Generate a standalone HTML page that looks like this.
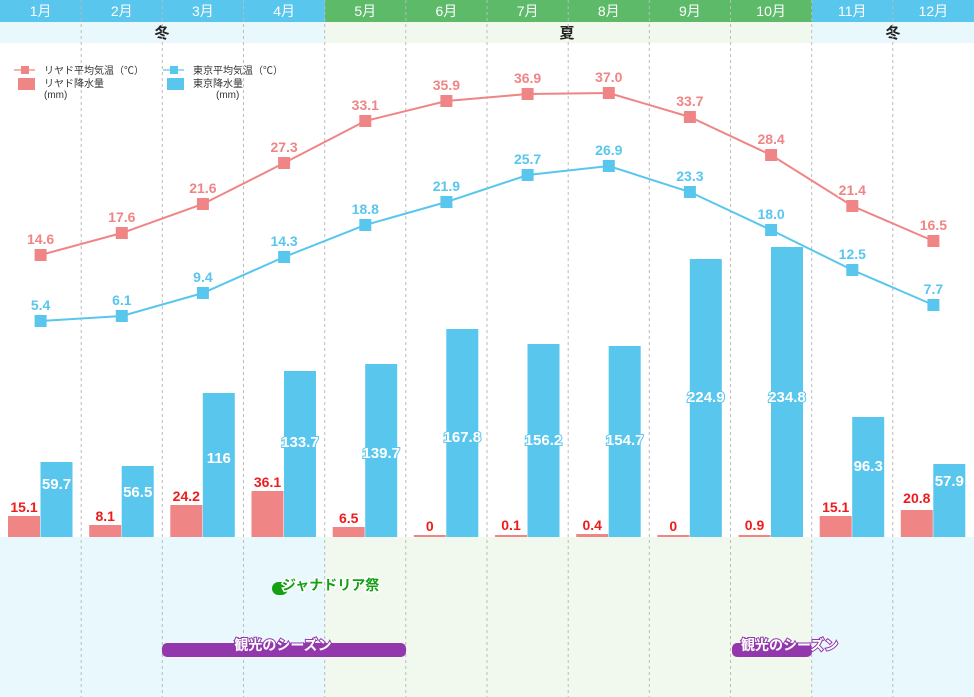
<!DOCTYPE html>
<html><head><meta charset="utf-8"><style>
html,body{margin:0;padding:0;background:#fff;}
svg{display:block;font-family:"Liberation Sans","Noto Sans CJK JP",sans-serif;}
</style></head><body>
<svg width="974" height="697" viewBox="0 0 974 697" xmlns="http://www.w3.org/2000/svg">
<rect x="0" y="22" width="325" height="21" fill="#e9f8fd"/>
<rect x="325" y="22" width="487" height="21" fill="#f1f9ef"/>
<rect x="812" y="22" width="162" height="21" fill="#e9f8fd"/>
<rect x="0" y="537" width="325" height="160" fill="#e9f8fd"/>
<rect x="325" y="537" width="487" height="160" fill="#f1f9ef"/>
<rect x="812" y="537" width="162" height="160" fill="#e9f8fd"/>
<rect x="0" y="0" width="325" height="22" fill="#59c6ee"/>
<rect x="325" y="0" width="487" height="22" fill="#5cba68"/>
<rect x="812" y="0" width="162" height="22" fill="#59c6ee"/>
<g fill="#fff" font-size="14" text-anchor="middle">
<text x="40.6" y="16">1月</text><text x="121.8" y="16">2月</text><text x="202.9" y="16">3月</text><text x="284.1" y="16">4月</text>
<text x="365.3" y="16">5月</text><text x="446.4" y="16">6月</text><text x="527.6" y="16">7月</text><text x="608.8" y="16">8月</text>
<text x="689.9" y="16">9月</text><text x="771.1" y="16">10月</text><text x="852.3" y="16">11月</text><text x="933.4" y="16">12月</text>
</g>
<g font-size="15" font-weight="bold" text-anchor="middle" fill="#222">
<text x="162" y="38">冬</text><text x="567" y="38">夏</text><text x="893" y="38">冬</text>
</g>
<g stroke="#bbb" stroke-width="1" stroke-dasharray="3,3">
<line x1="81.2" y1="0" x2="81.2" y2="697"/><line x1="162.3" y1="0" x2="162.3" y2="697"/><line x1="243.5" y1="0" x2="243.5" y2="697"/>
<line x1="324.7" y1="0" x2="324.7" y2="697"/><line x1="405.8" y1="0" x2="405.8" y2="697"/><line x1="487" y1="0" x2="487" y2="697"/>
<line x1="568.2" y1="0" x2="568.2" y2="697"/><line x1="649.3" y1="0" x2="649.3" y2="697"/><line x1="730.5" y1="0" x2="730.5" y2="697"/>
<line x1="811.7" y1="0" x2="811.7" y2="697"/><line x1="892.8" y1="0" x2="892.8" y2="697"/>
</g>
<line x1="14" y1="70" x2="35" y2="70" stroke="#f08585" stroke-width="1.2"/><rect x="21" y="66" width="8" height="8" fill="#f08585"/>
<text x="44" y="74" font-size="10" fill="#333">リヤド平均気温（℃）</text>
<rect x="18" y="78" width="17" height="12" fill="#f08585"/>
<text x="44" y="87" font-size="10" fill="#333">リヤド降水量</text><text x="44" y="98" font-size="10" fill="#333">(mm)</text>
<line x1="163" y1="70" x2="184" y2="70" stroke="#59c6ee" stroke-width="1.2"/><rect x="170" y="66" width="8" height="8" fill="#59c6ee"/>
<text x="193" y="74" font-size="10" fill="#333">東京平均気温（℃）</text>
<rect x="167" y="78" width="17" height="12" fill="#59c6ee"/>
<text x="193" y="87" font-size="10" fill="#333">東京降水量</text><text x="216" y="98" font-size="10" fill="#333">(mm)</text>
<g fill="#f08585">
<rect x="8" y="516" width="32" height="21"/><rect x="89.2" y="525" width="32" height="12"/><rect x="170.3" y="505" width="32" height="32"/>
<rect x="251.5" y="491" width="32" height="46"/><rect x="332.7" y="527" width="32" height="10"/><rect x="413.8" y="535" width="32" height="2"/>
<rect x="495" y="535" width="32" height="2"/><rect x="576.2" y="534" width="32" height="3"/><rect x="657.3" y="535" width="32" height="2"/>
<rect x="738.5" y="535" width="32" height="2"/><rect x="819.7" y="516" width="32" height="21"/><rect x="900.8" y="510" width="32" height="27"/>
</g>
<g fill="#59c6ee">
<rect x="40.5" y="462" width="32" height="75"/><rect x="121.7" y="466" width="32" height="71"/><rect x="202.8" y="393" width="32" height="144"/>
<rect x="284" y="371" width="32" height="166"/><rect x="365.2" y="364" width="32" height="173"/><rect x="446.3" y="329" width="32" height="208"/>
<rect x="527.5" y="344" width="32" height="193"/><rect x="608.7" y="346" width="32" height="191"/><rect x="689.8" y="259" width="32" height="278"/>
<rect x="771" y="247" width="32" height="290"/><rect x="852.2" y="417" width="32" height="120"/><rect x="933.3" y="464" width="32" height="73"/>
</g>
<g font-size="14" font-weight="bold" text-anchor="middle" fill="#ee1c1c" stroke="#fff" stroke-width="3" paint-order="stroke">
<text x="24" y="512">15.1</text><text x="105.2" y="521">8.1</text><text x="186.3" y="501">24.2</text><text x="267.5" y="487">36.1</text>
<text x="348.7" y="523">6.5</text><text x="429.8" y="531">0</text><text x="511" y="530">0.1</text><text x="592.2" y="530">0.4</text>
<text x="673.3" y="531">0</text><text x="754.5" y="530">0.9</text><text x="835.7" y="512">15.1</text><text x="916.8" y="503">20.8</text>
</g>
<g font-size="15" font-weight="bold" text-anchor="middle" fill="#fff" stroke="#59c6ee" stroke-width="2" paint-order="stroke">
<text x="56.5" y="489">59.7</text><text x="137.7" y="497">56.5</text><text x="218.8" y="463">116</text><text x="300" y="447">133.7</text>
<text x="381.2" y="458">139.7</text><text x="462.3" y="442">167.8</text><text x="543.5" y="445">156.2</text><text x="624.7" y="445">154.7</text>
<text x="705.8" y="402">224.9</text><text x="787" y="402">234.8</text><text x="868.2" y="471">96.3</text><text x="949.3" y="486">57.9</text>
</g>
<polyline fill="none" stroke="#f08585" stroke-width="2" points="40.6,255 121.8,233 202.9,204 284.1,163 365.3,121 446.4,101 527.6,94 608.8,93 689.9,117 771.1,155 852.3,206 933.4,241"/>
<polyline fill="none" stroke="#59c6ee" stroke-width="2" points="40.6,321 121.8,316 202.9,293 284.1,257 365.3,225 446.4,202 527.6,175 608.8,166 689.9,192 771.1,230 852.3,270 933.4,305"/>
<g fill="#f08585">
<rect x="34.6" y="249" width="12" height="12"/><rect x="115.8" y="227" width="12" height="12"/><rect x="196.9" y="198" width="12" height="12"/><rect x="278.1" y="157" width="12" height="12"/>
<rect x="359.3" y="115" width="12" height="12"/><rect x="440.4" y="95" width="12" height="12"/><rect x="521.6" y="88" width="12" height="12"/><rect x="602.8" y="87" width="12" height="12"/>
<rect x="683.9" y="111" width="12" height="12"/><rect x="765.1" y="149" width="12" height="12"/><rect x="846.3" y="200" width="12" height="12"/><rect x="927.4" y="235" width="12" height="12"/>
</g>
<g fill="#59c6ee">
<rect x="34.6" y="315" width="12" height="12"/><rect x="115.8" y="310" width="12" height="12"/><rect x="196.9" y="287" width="12" height="12"/><rect x="278.1" y="251" width="12" height="12"/>
<rect x="359.3" y="219" width="12" height="12"/><rect x="440.4" y="196" width="12" height="12"/><rect x="521.6" y="169" width="12" height="12"/><rect x="602.8" y="160" width="12" height="12"/>
<rect x="683.9" y="186" width="12" height="12"/><rect x="765.1" y="224" width="12" height="12"/><rect x="846.3" y="264" width="12" height="12"/><rect x="927.4" y="299" width="12" height="12"/>
</g>
<g font-size="14" font-weight="bold" text-anchor="middle" fill="#f08585" stroke="#fff" stroke-width="3" paint-order="stroke">
<text x="40.6" y="244">14.6</text><text x="121.8" y="222">17.6</text><text x="202.9" y="193">21.6</text><text x="284.1" y="152">27.3</text>
<text x="365.3" y="110">33.1</text><text x="446.4" y="90">35.9</text><text x="527.6" y="83">36.9</text><text x="608.8" y="82">37.0</text>
<text x="689.9" y="106">33.7</text><text x="771.1" y="144">28.4</text><text x="852.3" y="195">21.4</text><text x="933.4" y="230">16.5</text>
</g>
<g font-size="14" font-weight="bold" text-anchor="middle" fill="#59c6ee" stroke="#fff" stroke-width="3" paint-order="stroke">
<text x="40.6" y="310">5.4</text><text x="121.8" y="305">6.1</text><text x="202.9" y="282">9.4</text><text x="284.1" y="246">14.3</text>
<text x="365.3" y="214">18.8</text><text x="446.4" y="191">21.9</text><text x="527.6" y="164">25.7</text><text x="608.8" y="155">26.9</text>
<text x="689.9" y="181">23.3</text><text x="771.1" y="219">18.0</text><text x="852.3" y="259">12.5</text><text x="933.4" y="294">7.7</text>
</g>
<rect x="272" y="582" width="16" height="13" rx="6.5" fill="#13a013"/>
<text x="282" y="590" font-size="14" font-weight="bold" fill="#13a013" stroke="#fff" stroke-width="3" paint-order="stroke">ジャナドリア祭</text>
<rect x="162" y="643" width="244" height="14" rx="5" fill="#9338ac"/>
<text x="283" y="650" font-size="14" font-weight="bold" fill="#fff" text-anchor="middle" stroke="#9338ac" stroke-width="2" paint-order="stroke">観光のシーズン</text>
<rect x="732" y="643" width="80" height="14" rx="5" fill="#9338ac"/>
<text x="741" y="650" font-size="14" font-weight="bold" fill="#fff" stroke="#9338ac" stroke-width="2" paint-order="stroke">観光のシーズン</text>
</svg>
</body></html>
